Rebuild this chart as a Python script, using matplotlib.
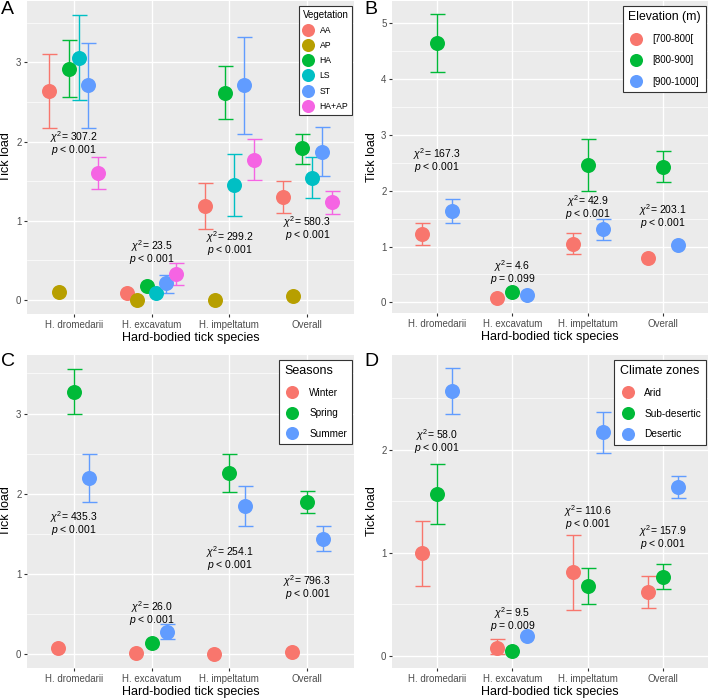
import matplotlib.pyplot as plt
from matplotlib.lines import Line2D
import numpy as np

plt.rcParams['font.family'] = ['Liberation Sans', 'DejaVu Sans']
plt.rcParams['mathtext.fontset'] = 'custom'
plt.rcParams['mathtext.rm'] = 'Liberation Sans'
plt.rcParams['mathtext.it'] = 'Liberation Sans:italic'

nan = np.nan

species = ['H. dromedarii', 'H. excavatum', 'H. impeltatum', 'Overall']

# A - vegetation
veg_groups = ['AA', 'AP', 'HA', 'LS', 'ST', 'HA+AP']
veg_mean = [[2.64, 0.08, 1.18, 1.30],
            [0.10, 0.00, 0.00, 0.05],
            [2.92, 0.18, 2.61, 1.92],
            [3.06, 0.09, 1.45, 1.54],
            [2.71, 0.21, 2.71, 1.87],
            [1.60, 0.32, 1.77, 1.23]]
veg_low = [[2.17, nan, 0.90, 1.10],
           [nan, nan, nan, nan],
           [2.56, nan, 2.28, 1.72],
           [2.52, nan, 1.06, 1.28],
           [2.17, 0.09, 2.09, 1.57],
           [1.40, 0.19, 1.51, 1.09]]
veg_high = [[3.11, nan, 1.48, 1.50],
            [nan, nan, nan, nan],
            [3.28, nan, 2.96, 2.10],
            [3.60, nan, 1.84, 1.80],
            [3.24, 0.31, 3.32, 2.18],
            [1.80, 0.47, 2.03, 1.37]]
veg_chi = ['307.2', '23.5', '299.2', '580.3']
veg_p = ['< 0.001', '< 0.001', '< 0.001', '< 0.001']

# B - elevation
elev_groups = ['[700-800[', '[800-900]', '[900-1000]']
elev_mean = [[1.22, 0.08, 1.05, 0.79],
             [4.64, 0.19, 2.46, 2.43],
             [1.64, 0.14, 1.31, 1.02]]
elev_low = [[1.03, nan, 0.86, nan],
            [4.12, nan, 2.00, 2.15],
            [1.42, nan, 1.12, nan]]
elev_high = [[1.42, nan, 1.24, nan],
             [5.16, nan, 2.93, 2.71],
             [1.86, nan, 1.49, nan]]
elev_chi = ['167.3', '4.6', '42.9', '203.1']
elev_p = ['< 0.001', '= 0.099', '< 0.001', '< 0.001']

# C - seasons
season_groups = ['Winter', 'Spring', 'Summer']
season_mean = [[0.08, 0.01, 0.00, 0.03],
               [3.27, 0.14, 2.26, 1.89],
               [2.20, 0.28, 1.84, 1.44]]
season_low = [[nan, nan, nan, nan],
              [2.99, nan, 2.02, 1.76],
              [1.90, 0.19, 1.60, 1.29]]
season_high = [[nan, nan, nan, nan],
               [3.55, nan, 2.50, 2.03],
               [2.50, 0.37, 2.09, 1.60]]
season_chi = ['435.3', '26.0', '254.1', '796.3']
season_p = ['< 0.001', '< 0.001', '< 0.001', '< 0.001']

# D - climate zones
climate_groups = ['Arid', 'Sub-desertic', 'Desertic']
climate_mean = [[1.00, 0.08, 0.81, 0.62],
                [1.57, 0.05, 0.68, 0.77],
                [2.57, 0.19, 2.17, 1.64]]
climate_low = [[0.68, 0.02, 0.45, 0.47],
               [1.28, nan, 0.50, 0.65],
               [2.35, nan, 1.97, 1.53]]
climate_high = [[1.31, 0.16, 1.17, 0.78],
                [1.86, nan, 0.85, 0.89],
                [2.79, nan, 2.37, 1.75]]
climate_chi = ['58.0', '9.5', '110.6', '157.9']
climate_p = ['< 0.001', '= 0.009', '< 0.001', '< 0.001']

hue6 = ['#F8766D', '#B79F00', '#00BA38', '#00BFC4', '#619CFF', '#F564E3']
hue3 = ['#F8766D', '#00BA38', '#619CFF']


def draw_panel(ax, groups, mean, low, high, chi, pval, colors, dodge,
               ylim, yticks, text_y, title, title_size, label_size, spacing,
               hlen, hpad, bpad):
    ax.set_facecolor('#EBEBEB')
    for s in ax.spines.values():
        s.set_visible(False)
    ax.set_xlim(0.4, 4.6)
    ax.set_ylim(*ylim)
    ax.set_xticks(np.arange(1, 5))
    ax.set_xticklabels(species)
    ax.set_yticks(yticks)
    ax.set_yticks(np.arange(yticks[0] + 0.5, ylim[1], 1.0), minor=True)
    ax.tick_params(which='major', length=2.5, width=0.8, color='#333333',
                   labelcolor='#4D4D4D', labelsize=7.0, pad=1.5)
    ax.tick_params(which='minor', length=0)
    ax.grid(True, which='major', color='white', lw=1.0)
    ax.grid(True, which='minor', axis='y', color='white', lw=0.5)
    ax.set_axisbelow(True)

    n = len(groups)
    x = np.arange(1, 5)
    handles = []
    for j in range(n):
        xs = x + (j - (n - 1) / 2) * dodge / n
        m = np.array(mean[j])
        lo = np.array(low[j])
        hi = np.array(high[j])
        ok = ~np.isnan(lo)
        if ok.any():
            ax.errorbar(xs[ok], m[ok], yerr=[m[ok] - lo[ok], hi[ok] - m[ok]],
                        fmt='none', ecolor=colors[j], elinewidth=1.0,
                        capsize=5.4, capthick=1.0, zorder=3)
        ax.plot(xs, m, 'o', ms=10.8, color=colors[j], mew=0, zorder=4)
        handles.append(Line2D([], [], ls='none', marker='o', ms=9.4,
                              color=colors[j], mew=0, label=groups[j]))

    # chi-square test labels, one two-line text per species
    for i in range(4):
        ax.text(x[i], text_y[i], r'$\chi^2$= ' + chi[i] + '\n' + r'$p$ ' + pval[i],
                ha='center', va='center', multialignment='center',
                fontsize=7.5, linespacing=0.8, zorder=5)

    ax.set_xlabel('Hard-bodied tick species', fontsize=9, labelpad=1.5)
    ax.set_ylabel('Tick load', fontsize=9)
    ax.yaxis.set_label_coords(-0.045, 0.5)

    leg = ax.legend(handles=handles, title=title, loc='upper right',
                    bbox_to_anchor=(0.995, 0.985), fontsize=label_size,
                    title_fontsize=title_size, frameon=True, fancybox=False,
                    edgecolor='#333333', framealpha=1, alignment='left',
                    handlelength=hlen, handletextpad=hpad, labelspacing=spacing,
                    borderpad=bpad, borderaxespad=0)
    leg.get_frame().set_linewidth(0.8)


fig = plt.figure(figsize=(7.08, 6.99), dpi=100)
W, H = 708.0, 699.0


def add_ax(left, top, right, bottom):
    return fig.add_axes([left / W, 1 - bottom / H, (right - left) / W, (bottom - top) / H])


axA = add_ax(27, 1, 354, 314)
axB = add_ax(392, 1, 708, 313)
axC = add_ax(27, 355, 354, 668)
axD = add_ax(392, 355, 708, 668)

draw_panel(axA, veg_groups, veg_mean, veg_low, veg_high, veg_chi, veg_p,
           hue6, 0.75, (-0.18, 3.776), [0, 1, 2, 3], [1.98, 0.60, 0.715, 0.905],
           'Vegetation', 7.0, 6.2, 0.72, 1.3, 0.7, 0.45)
draw_panel(axB, elev_groups, elev_mean, elev_low, elev_high, elev_chi, elev_p,
           hue3, 0.6, (-0.19, 5.40), [0, 1, 2, 3, 4, 5], [2.555, 0.535, 1.715, 1.555],
           'Elevation (m)', 8.8, 7.0, 1.15, 1.6, 0.8, 0.55)
draw_panel(axC, season_groups, season_mean, season_low, season_high, season_chi,
           season_p, hue3, 0.6, (-0.175, 3.73), [0, 1, 2, 3],
           [1.635, 0.515, 1.195, 0.83], 'Seasons', 9, 7.2, 1.05, 1.6, 0.9, 0.55)
draw_panel(axD, climate_groups, climate_mean, climate_low, climate_high,
           climate_chi, climate_p, hue3, 0.6, (-0.117, 2.92), [0, 1, 2],
           [2.08, 0.355, 1.35, 1.155], 'Climate zones', 9, 7.3, 1.05, 1.6, 0.8, 0.55)

for letter, px, py in [('A', 1, 1), ('B', 364, 1), ('C', 1, 353), ('D', 364, 353)]:
    fig.text(px / W, 1 - py / H, letter, fontsize=14, ha='left', va='top')

fig.savefig('out.png', dpi=100)
